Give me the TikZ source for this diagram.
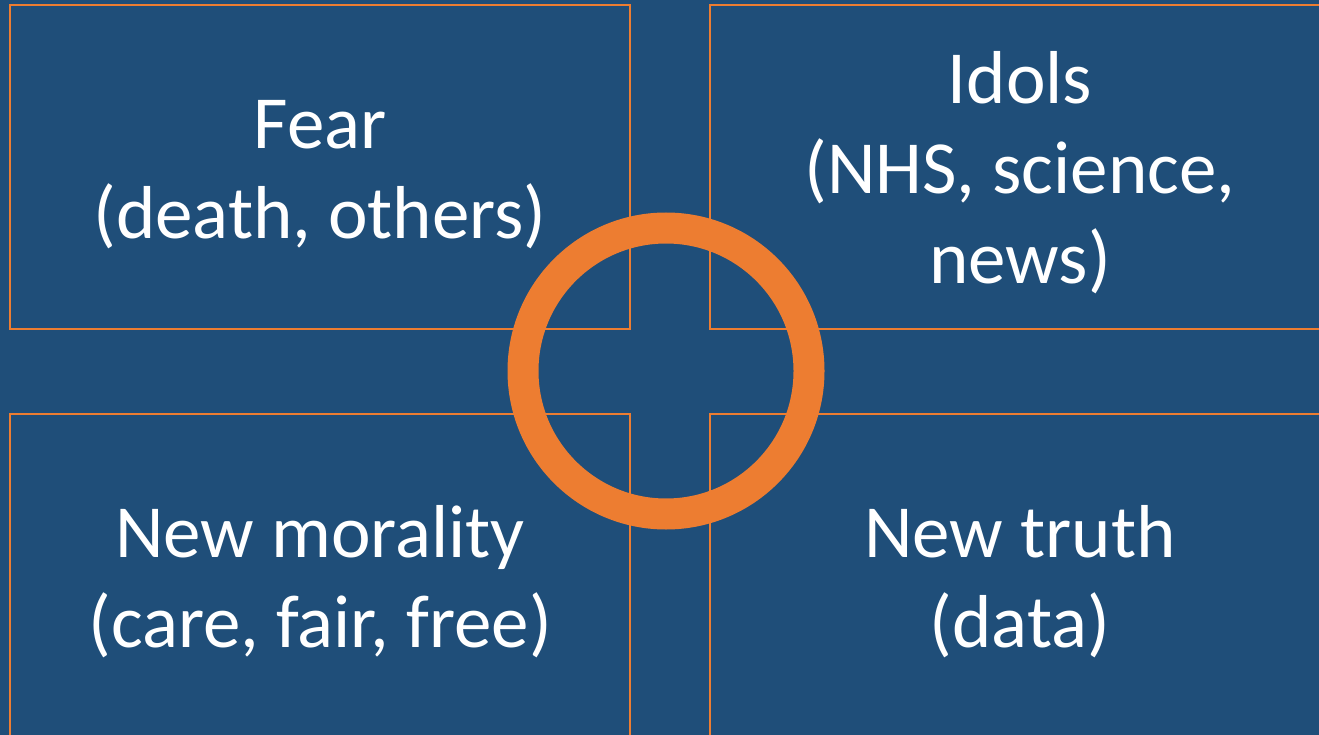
\documentclass[tikz,border=0pt]{standalone}
\usepackage{fontspec}
\setmainfont{Carlito}
\usepackage{tikz}
\definecolor{slateblue}{RGB}{31,78,121}
\definecolor{accent}{RGB}{237,125,49}
\tikzstyle{quad}=[draw=accent, line width=2pt, rectangle, inner sep=0pt, minimum width=620pt, minimum height=324pt]
\tikzstyle{caption}=[inner sep=0pt, align=center, text=white, font=\fontsize{75}{90}\selectfont]
\tikzstyle{ring}=[draw=accent, line width=31pt, circle, inner sep=0pt, minimum size=286pt]

\begin{document}
\begin{tikzpicture}[x=1pt, y=-1pt]
        \useasboundingbox (0,0) rectangle (1319,735);
        \clip (0,0) rectangle (1319,735);
        \fill[slateblue] (0,0) rectangle (1319,735);
        \node[quad] (fear)     at (320, 167)  {};
        \node[quad] (idols)    at (1020, 167) {};
        \node[quad] (morality) at (320, 576)  {};
        \node[quad] (truth)    at (1020, 576) {};
        \node[caption] (fearT)     at ([yshift=-8pt]fear.center)     {Fear\\(death, others)};
        \node[caption] (idolsT)    at ([yshift=-6pt]idols.center)    {Idols\\(NHS, science,\\news)};
        \node[caption] (moralityT) at ([yshift=-6pt]morality.center) {New morality\\(care, fair, free)};
        \node[caption] (truthT)    at ([yshift=-6pt]truth.center)    {New truth\\(data)};
        \node[ring] (hub)      at (666, 371)  {};
    \end{tikzpicture}
\end{document}
